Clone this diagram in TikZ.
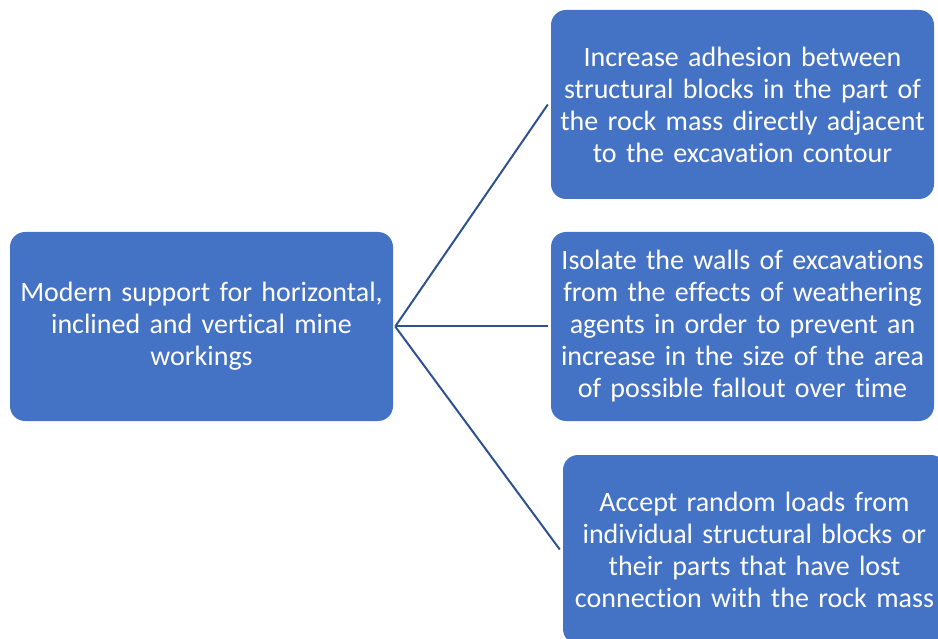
\documentclass[tikz,border=0pt]{standalone}
\usepackage{fontspec}
\setmainfont{Carlito}[Ligatures=NoCommon]
\definecolor{boxblue}{HTML}{4472C4}
\definecolor{lineblue}{HTML}{2F528F}
\begin{document}
\begin{tikzpicture}[x=1pt, y=-1pt,
   goalbox/.style={fill=boxblue, rounded corners=15pt, text=white,
      minimum width=383pt, minimum height=189pt, text width=383pt,
      align=center, inner sep=0pt, font=\fontsize{28}{32}\selectfont},
   link/.style={draw=lineblue, line width=2pt}]
   \useasboundingbox (0,0) rectangle (938,639);
   \clip (0,0) rectangle (938,639);
   \node[goalbox] (support) at (201.5,326.5) {Modern support for horizontal,\\ inclined and vertical mine\\ workings};
   \node[goalbox] (adhesion) at (742.5,104.5) {Increase adhesion between\\ structural blocks in the part of\\ the rock mass directly adjacent\\ to the excavation contour};
   \node[goalbox] (isolate) at (742.5,326.5) {Isolate the walls of excavations\\ from the effects of weathering\\ agents in order to prevent an\\ increase in the size of the area\\ of possible fallout over time};
   \node[goalbox] (loads) at (754.5,549.5) {Accept random loads from\\ individual structural blocks or\\ their parts that have lost\\ connection with the rock mass};
   \coordinate (fork) at ([xshift=2pt]support.east);
   \draw[link] (fork) -- ([xshift=-3pt]adhesion.west);
   \draw[link] (fork) -- ([xshift=-3pt]isolate.west);
   \draw[link] (fork) -- ([xshift=-3pt]loads.west);
\end{tikzpicture}
\end{document}
